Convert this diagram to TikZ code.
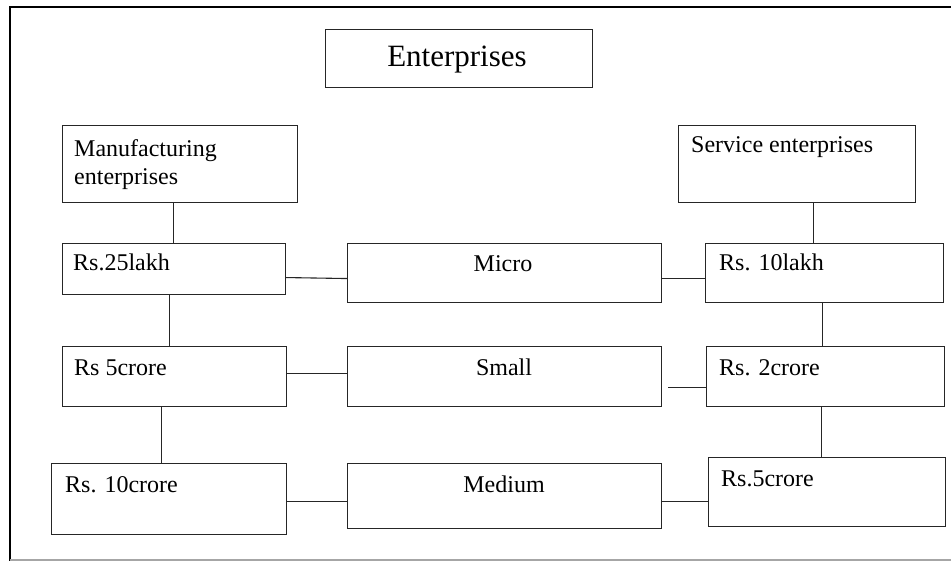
\documentclass[tikz,border=0pt]{standalone}
\usepackage{fontspec}
\setmainfont{Liberation Serif}
\begin{document}
\begin{tikzpicture}[x=1pt,y=-1pt,
  box/.style={draw=black!85, line width=1.1pt, anchor=north west, inner sep=0pt},
  txt/.style={anchor=base west, inner sep=0pt, font=\fontsize{24}{28}\selectfont},
  ctxt/.style={anchor=base, inner sep=0pt, font=\fontsize{24}{28}\selectfont},
  link/.style={draw=black!85, line width=1.1pt}]
\useasboundingbox (0,0) rectangle (951,561);
% page frame
\draw[line width=2pt, line cap=rect] (10,561) -- (10,7) -- (951,7);
\draw[black!35, line width=1.5pt] (10,560) -- (951,560);

% boxes
\node[box, minimum width=267pt, minimum height=58pt] (ent) at (325,29) {};
\node[box, minimum width=235pt, minimum height=77pt] (manu) at (62,125) {};
\node[box, minimum width=237pt, minimum height=77pt] (serv) at (678,125) {};
\node[box, minimum width=223pt, minimum height=51pt] (lakhA) at (62,243) {};
\node[box, minimum width=314pt, minimum height=59pt] (micro) at (347,243) {};
\node[box, minimum width=238pt, minimum height=59pt] (lakhB) at (705,243) {};
\node[box, minimum width=224pt, minimum height=60pt] (croreA) at (62,346) {};
\node[box, minimum width=314pt, minimum height=60pt] (small) at (347,346) {};
\node[box, minimum width=238pt, minimum height=60pt] (croreB) at (706,346) {};
\node[box, minimum width=235pt, minimum height=71pt] (croreC) at (51,463) {};
\node[box, minimum width=314pt, minimum height=65pt] (medium) at (347,463) {};
\node[box, minimum width=237pt, minimum height=69pt] (croreD) at (708,457) {};

% labels
\node[ctxt, font=\fontsize{31}{36}\selectfont] (entT) at (457,67) {Enterprises};
\node[txt] (manuT1) at (74,157) {Manufacturing};
\node[txt] (manuT2) at (74,185) {enterprises};
\node[txt] (servT) at (691,153) {Service enterprises};
\node[txt] (lakhAT) at (73,271) {Rs.25lakh};
\node[ctxt] (microT) at (503,272) {Micro};
\node[txt] (lakhBT) at (719,271) {Rs. 10lakh};
\node[txt] (croreAT) at (74,376) {Rs 5crore};
\node[ctxt] (smallT) at (504,376) {Small};
\node[txt] (croreBT) at (719,376) {Rs. 2crore};
\node[txt] (croreCT) at (65,492) {Rs. 10crore};
\node[ctxt] (mediumT) at (504,492) {Medium};
\node[txt] (croreDT) at (721,486) {Rs.5crore};

% left column
\draw[link] ([xshift=-7pt]manu.south) -- ([xshift=-1pt]lakhA.north);
\draw[link] ([xshift=-4.5pt]lakhA.south) -- ([xshift=-5pt]croreA.north);
\draw[link] ([xshift=-13pt]croreA.south) -- ([xshift=-7.5pt]croreC.north);
% right column
\draw[link] ([xshift=16.5pt]serv.south) -- ([xshift=-11pt]lakhB.north);
\draw[link] ([xshift=-2pt]lakhB.south) -- ([xshift=-3pt]croreB.north);
\draw[link] ([xshift=-4pt]croreB.south) -- ([xshift=-5.5pt]croreD.north);
% rows
\draw[link] ([yshift=-8.5pt]lakhA.east) -- ([yshift=-5.5pt]micro.west);
\draw[link] ([yshift=-5.5pt]micro.east) -- ([yshift=-5.5pt]lakhB.west);
\draw[link] ([yshift=3pt]croreA.east) -- ([yshift=3pt]small.west);
\draw[link] ([xshift=6pt,yshift=-11pt]small.east) -- ([yshift=-11pt]croreB.west);
\draw[link] ([yshift=-2.5pt]croreC.east) -- ([yshift=-5.5pt]medium.west);
\draw[link] ([yshift=-5.5pt]medium.east) -- ([yshift=-9.5pt]croreD.west);
\end{tikzpicture}
\end{document}
